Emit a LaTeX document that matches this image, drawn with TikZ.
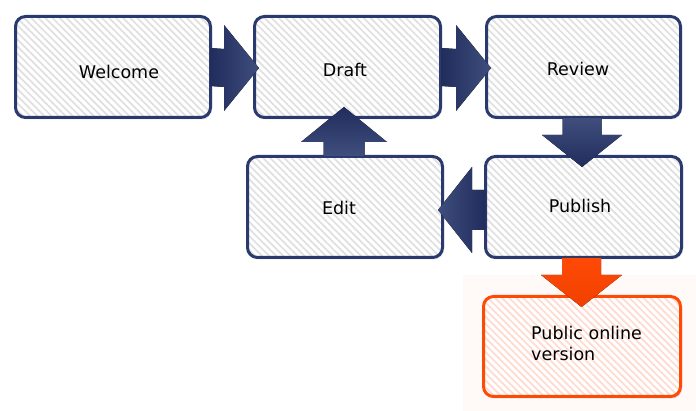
\documentclass[tikz,border=0pt]{standalone}
\usepackage{fontspec}
\setmainfont{DejaVu Sans}
\usetikzlibrary{calc,patterns.meta,shadows}
\definecolor{navy}{HTML}{2A3A6E}
\definecolor{navyD}{HTML}{212D5C}
\definecolor{navyL}{HTML}{3F4E7D}
\definecolor{stripe}{HTML}{E0E0E0}
\definecolor{orng}{HTML}{FF4A06}
\definecolor{orngD}{HTML}{F04000}
\definecolor{ostripe}{HTML}{FFDACE}
\definecolor{pinkbg}{HTML}{FFFAF8}
\begin{document}
\begin{tikzpicture}[x=1pt,y=-1pt,
  box/.style={draw=navy, line width=3pt, rounded corners=10pt, inner sep=0pt,
    minimum height=101pt,
    preaction={fill=white, drop shadow={shadow xshift=1.5pt, shadow yshift=-2pt, opacity=0.12, fill=navy}},
    pattern={Lines[angle=-45,distance=5pt,line width=1.7pt]}, pattern color=stripe},
  obox/.style={box, draw=orng, pattern color=ostripe,
    preaction={fill=white, drop shadow={shadow xshift=1.5pt, shadow yshift=-2pt, opacity=0.10, fill=orng}}},
  lbl/.style={font=\fontsize{17.5}{21}\selectfont, text=black, inner sep=0pt},
  arrR/.style={left color=navyD, right color=navyL},
  arrL/.style={left color=navyL, right color=navyD},
  arrD/.style={top color=navyL, bottom color=navyD},
  arrU/.style={top color=navyD, bottom color=navyL},
  arrO/.style={top color=orng, bottom color=orngD}]
\useasboundingbox (0,0) rectangle (696,411);
\fill[pinkbg] (463,275) rectangle (696,411);

% boxes
\node[box, minimum width=195pt] (welcome) at (113,67) {};
\node[box, minimum width=186pt] (draft) at (347.5,67) {};
\node[box, minimum width=194pt] (review) at (583.5,67) {};
\node[box, minimum width=195pt] (edit) at (345,207) {};
\node[box, minimum width=196pt] (publish) at (583.5,207) {};
\node[obox, minimum width=197pt, minimum height=100pt] (public) at (582,346.5) {};

% labels
\node[lbl] (tw) at (119,72) {Welcome};
\node[lbl] (td) at (345,70) {Draft};
\node[lbl] (tr) at (578,68.5) {Review};
\node[lbl] (te) at (339,207.5) {Edit};
\node[lbl] (tp) at (580,206) {Publish};
\node[lbl, align=left, anchor=north west] (tpub) at (531,326.5) {Public online\\version};

% arrows
% Welcome -> Draft
\coordinate (a1s) at (welcome.east);
\coordinate (a1t) at ($(draft.west)+(6,1)$);
\fill[arrR] ($(a1s)+(-1,-19)$) -- ($(a1t)+(-35,-19)$) -- ($(a1t)+(-35,-43)$) -- (a1t)
  -- ($(a1t)+(-35,43)$) -- ($(a1t)+(-35,19)$) -- ($(a1s)+(-1,19)$) -- cycle;
% Draft -> Review
\coordinate (a2s) at (draft.east);
\coordinate (a2t) at ($(review.west)+(6,1)$);
\fill[arrR] ($(a2s)+(-1,-19)$) -- ($(a2t)+(-35,-19)$) -- ($(a2t)+(-35,-43)$) -- (a2t)
  -- ($(a2t)+(-35,43)$) -- ($(a2t)+(-35,19)$) -- ($(a2s)+(-1,19)$) -- cycle;
% Review -> Publish
\coordinate (a3s) at ($(review.south)+(-1.5,0)$);
\coordinate (a3t) at ($(a3s |- publish.north)+(0,12)$);
\fill[arrD] ($(a3s)+(-19.5,-1)$) -- ($(a3t)+(-19.5,-32)$) -- ($(a3t)+(-40,-32)$) -- (a3t)
  -- ($(a3t)+(40,-32)$) -- ($(a3t)+(19.5,-32)$) -- ($(a3s)+(19.5,-1)$) -- cycle;
% Publish -> Edit
\coordinate (a4s) at ($(publish.west)+(0,3)$);
\coordinate (a4t) at ($(a4s -| edit.east)+(-6,0)$);
\fill[arrL] ($(a4s)+(1,-20)$) -- ($(a4t)+(34,-20)$) -- ($(a4t)+(34,-43)$) -- (a4t)
  -- ($(a4t)+(34,43)$) -- ($(a4t)+(34,20)$) -- ($(a4s)+(1,20)$) -- cycle;
% Edit -> Draft
\coordinate (a5s) at ($(edit.north)+(-1,0)$);
\coordinate (a5t) at ($(a5s |- draft.south)+(0,-12)$);
\fill[arrU] ($(a5s)+(-20.5,1)$) -- ($(a5t)+(-20.5,35)$) -- ($(a5t)+(-43,35)$) -- (a5t)
  -- ($(a5t)+(43,35)$) -- ($(a5t)+(20.5,35)$) -- ($(a5s)+(20.5,1)$) -- cycle;
% Publish -> Public online version
\coordinate (a6s) at ($(publish.south)+(-2,0)$);
\coordinate (a6t) at ($(a6s |- public.north)+(0,12)$);
\fill[arrO] ($(a6s)+(-19.5,-1)$) -- ($(a6t)+(-19.5,-32)$) -- ($(a6t)+(-40.5,-32)$) -- (a6t)
  -- ($(a6t)+(40.5,-32)$) -- ($(a6t)+(19.5,-32)$) -- ($(a6s)+(19.5,-1)$) -- cycle;
\end{tikzpicture}
\end{document}
